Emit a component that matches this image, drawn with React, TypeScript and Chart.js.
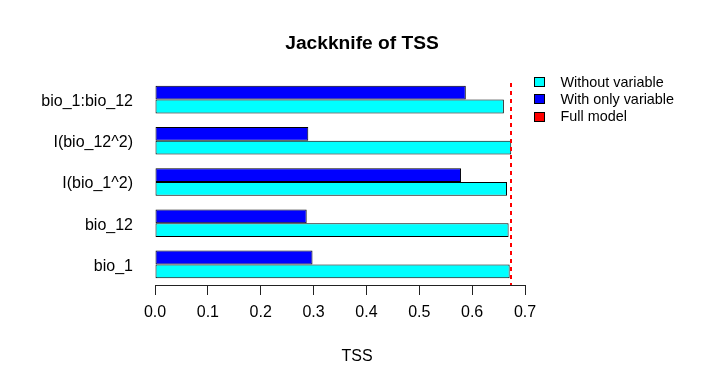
import React, { useEffect, useRef } from 'react';
import { Chart, registerables } from 'chart.js';

Chart.register(...registerables);

const categories = ['bio_1:bio_12', 'I(bio_12^2)', 'I(bio_1^2)', 'bio_12', 'bio_1'];
const withOnlyVariable = [0.588, 0.29, 0.579, 0.287, 0.298];
const withoutVariable = [0.66, 0.674, 0.666, 0.669, 0.671];
const fullModel = 0.674;
const xTickValues = [0, 0.1, 0.2, 0.3, 0.4, 0.5, 0.6, 0.7];
const legendLabels = ['Without variable', 'With only variable', 'Full model'];
const legendColors = ['#00FFFF', '#0000FF', '#FF0000'];
const chartTitle = 'Jackknife of TSS';
const xAxisTitle = 'TSS';

const FONT = '"Liberation Sans", Arial, Helvetica, sans-serif';

const fullModelLine = {
  id: 'fullModelLine',
  afterDatasetsDraw(chart: any) {
    const { ctx, chartArea, scales } = chart;
    const x = Math.round(scales.x.getPixelForValue(fullModel));
    ctx.save();
    ctx.strokeStyle = '#FF0000';
    ctx.lineWidth = 2;
    ctx.setLineDash([4, 4]);
    ctx.beginPath();
    ctx.moveTo(x, chartArea.top + 4);
    ctx.lineTo(x, chartArea.bottom);
    ctx.stroke();
    ctx.restore();
  },
};

export default function App() {
  const canvasRef = useRef<HTMLCanvasElement | null>(null);

  useEffect(() => {
    if (!canvasRef.current) return;
    const chart = new Chart(canvasRef.current, {
      type: 'bar',
      data: {
        labels: categories,
        datasets: [
          {
            label: legendLabels[1],
            data: withOnlyVariable,
            backgroundColor: legendColors[1],
            borderColor: '#000000',
            borderWidth: 1,
            borderSkipped: false,
            categoryPercentage: 0.67,
            barPercentage: 1,
          },
          {
            label: legendLabels[0],
            data: withoutVariable,
            backgroundColor: legendColors[0],
            borderColor: '#000000',
            borderWidth: 1,
            borderSkipped: false,
            categoryPercentage: 0.67,
            barPercentage: 1,
          },
        ],
      },
      options: {
        responsive: false,
        animation: false,
        indexAxis: 'y',
        layout: { padding: { left: 0, right: 195, top: 79, bottom: 0 } },
        plugins: {
          legend: { display: false },
          title: { display: false },
          tooltip: { enabled: false },
        },
        scales: {
          x: {
            type: 'linear',
            min: 0,
            max: 0.7,
            afterBuildTicks: (s: any) => {
              s.ticks = xTickValues.map((v) => ({ value: v }));
            },
            grid: { drawOnChartArea: false, drawTicks: true, tickLength: 10, color: '#222222' },
            border: { display: true, color: '#222222', width: 1 },
            ticks: {
              font: { family: FONT, size: 16 },
              color: '#000000',
              padding: 8,
              maxRotation: 0,
              autoSkip: false,
              callback: (v: any) => Number(v).toFixed(1),
            },
            afterFit: (s: any) => {
              s.height = 99;
            },
          },
          y: {
            type: 'category',
            grid: { display: false, drawTicks: false },
            border: { display: false },
            ticks: {
              font: { family: FONT, size: 16 },
              color: '#000000',
              padding: 22,
              labelOffset: 2,
            },
            afterFit: (s: any) => {
              s.width = 155;
            },
          },
        },
      },
      plugins: [fullModelLine],
    });
    return () => chart.destroy();
  }, []);

  const legendRowCenters = [82, 99.3, 116.6];

  return (
    <div
      style={{
        position: 'fixed',
        left: 0,
        top: 0,
        width: 720,
        height: 384,
        background: '#ffffff',
        fontFamily: FONT,
        color: '#000000',
      }}
    >
      <canvas ref={canvasRef} width={720} height={384} style={{ display: 'block', width: 720, height: 384 }} />
      <div
        style={{
          position: 'absolute',
          left: 362,
          top: 42.5 - 9.6,
          transform: 'translateX(-50%)',
          fontSize: 19.2,
          lineHeight: '19.2px',
          fontWeight: 'bold',
          whiteSpace: 'nowrap',
        }}
      >
        {chartTitle}
      </div>
      <div
        style={{
          position: 'absolute',
          left: 357,
          top: 356 - 8,
          transform: 'translateX(-50%)',
          fontSize: 16,
          lineHeight: '16px',
          whiteSpace: 'nowrap',
        }}
      >
        {xAxisTitle}
      </div>
      {legendLabels.map((label, i) => (
        <React.Fragment key={label}>
          <div
            style={{
              position: 'absolute',
              left: 534,
              top: legendRowCenters[i] - 5,
              width: 11,
              height: 10,
              boxSizing: 'border-box',
              background: legendColors[i],
              border: '1px solid #000000',
            }}
          />
          <div
            style={{
              position: 'absolute',
              left: 560.5,
              top: legendRowCenters[i] - 7.2,
              fontSize: 14.4,
              lineHeight: '14.4px',
              whiteSpace: 'nowrap',
            }}
          >
            {label}
          </div>
        </React.Fragment>
      ))}
    </div>
  );
}
